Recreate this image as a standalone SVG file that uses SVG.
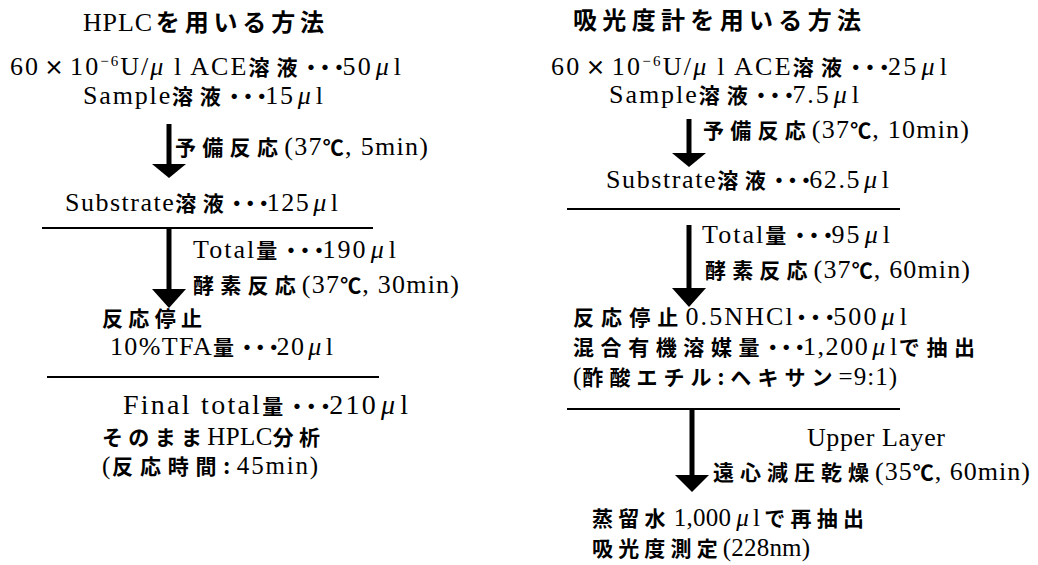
<svg xmlns="http://www.w3.org/2000/svg" width="1038" height="565" viewBox="0 0 1038 565">
<style>
text{font-family:"Liberation Serif","Times New Roman",serif;font-size:26px;fill:#000}
.r{font-family:"Liberation Serif","Times New Roman",serif;font-weight:normal;letter-spacing:0}
.s25{font-size:25px}
.big{font-size:28px}
.j{font-family:"Noto Sans CJK JP","Noto Sans CJK SC",sans-serif;font-weight:bold;font-size:21px;letter-spacing:5px}
.jt{font-family:"Noto Sans CJK JP","Noto Sans CJK SC",sans-serif;font-weight:bold;font-size:24px;letter-spacing:4px}
.x{font-family:"Noto Sans CJK JP",sans-serif;font-weight:bold;font-size:20px;letter-spacing:0}
.d{font-family:"Noto Sans CJK JP",sans-serif;font-weight:bold;font-size:21px;letter-spacing:-9px}
.m{font-family:"Liberation Serif",serif;font-style:italic}
.sup{font-size:15px}
.c{font-family:"Noto Sans CJK JP",sans-serif;font-weight:bold;font-size:21px;letter-spacing:0}
.rule{stroke:#000;stroke-width:2;fill:none}
.shaft{stroke:#000;stroke-width:5;fill:none}
.head{fill:#000}
</style>
<g id="connectors">
<line class="rule" x1="42" y1="228" x2="373" y2="228"/>
<line class="rule" x1="47" y1="377" x2="379" y2="377"/>
<line class="rule" x1="567" y1="209" x2="900" y2="209"/>
<line class="rule" x1="567" y1="409" x2="900" y2="409"/>
<line class="shaft" x1="169" y1="124" x2="169" y2="166"/>
<polygon class="head" points="152,164 186,164 169,178"/>
<line class="shaft" x1="169" y1="228" x2="169" y2="291"/>
<polygon class="head" points="152,289 186,289 169,308"/>
<line class="shaft" x1="689" y1="119" x2="689" y2="155"/>
<polygon class="head" points="672,153 706,153 689,167"/>
<line class="shaft" x1="689" y1="225" x2="689" y2="290"/>
<polygon class="head" points="672,288 706,288 689,307"/>
<line class="shaft" x1="692" y1="409" x2="692" y2="477"/>
<polygon class="head" points="675,475 709,475 692,492"/>
</g>
<g id="left-title"><text x="83" y="31" textLength="245"><tspan class="r">HPLC</tspan><tspan class="jt" dx="3">を用いる方法</tspan></text></g>
<g id="left-mix">
<text x="10" y="75" textLength="391"><tspan class="r">60</tspan><tspan class="x" dx="4">×</tspan><tspan class="r" dx="4">10</tspan><tspan class="r sup" dy="-9">−6</tspan><tspan class="r" dy="9">U/</tspan><tspan class="m">μ</tspan><tspan class="r"> l ACE</tspan><tspan class="j">溶液</tspan><tspan class="d" dx="-4">・・・</tspan><tspan class="r">50</tspan><tspan class="m" dx="3">μ</tspan><tspan class="r" dx="3">l</tspan></text>
<text x="83" y="104" textLength="240"><tspan class="r">Sample</tspan><tspan class="j">溶液</tspan><tspan class="d" dx="-4">・・・</tspan><tspan class="r">15</tspan><tspan class="m" dx="3">μ</tspan><tspan class="r" dx="3">l</tspan></text>
</g>
<g id="left-pre"><text x="175" y="155" textLength="253"><tspan class="j">予備反応</tspan><tspan class="r">(37</tspan><tspan class="c">℃</tspan><tspan class="r">, 5min)</tspan></text></g>
<g id="left-substrate"><text x="65" y="211" textLength="273"><tspan class="r">Substrate</tspan><tspan class="j">溶液</tspan><tspan class="d" dx="-4">・・・</tspan><tspan class="r">125</tspan><tspan class="m" dx="3">μ</tspan><tspan class="r" dx="3">l</tspan></text></g>
<g id="left-enzyme">
<text x="193" y="258" textLength="203"><tspan class="r">Total</tspan><tspan class="j">量</tspan><tspan class="d" dx="-4">・・・</tspan><tspan class="r">190</tspan><tspan class="m" dx="3">μ</tspan><tspan class="r" dx="3">l</tspan></text>
<text x="193" y="293" textLength="266"><tspan class="j">酵素反応</tspan><tspan class="r">(37</tspan><tspan class="c">℃</tspan><tspan class="r">, 30min)</tspan></text>
</g>
<g id="left-stop">
<text x="102" y="326" textLength="105"><tspan class="j">反応停止</tspan></text>
<text x="110" y="355" textLength="223"><tspan class="r">10%TFA</tspan><tspan class="j">量</tspan><tspan class="d" dx="-4">・・・</tspan><tspan class="r">20</tspan><tspan class="m" dx="3">μ</tspan><tspan class="r" dx="3">l</tspan></text>
</g>
<g id="left-final">
<text class="big" x="123" y="414" textLength="285"><tspan class="r">Final total</tspan><tspan class="j">量</tspan><tspan class="d" dx="-4">・・・</tspan><tspan class="r">210</tspan><tspan class="m" dx="3">μ</tspan><tspan class="r" dx="3">l</tspan></text>
<text class="s25" x="102" y="445" textLength="223"><tspan class="j">そのまま</tspan><tspan class="r">HPLC</tspan><tspan class="j">分析</tspan></text>
<text class="s25" x="102" y="474" textLength="216"><tspan class="r">(</tspan><tspan class="j">反応時間:</tspan><tspan class="r">45min)</tspan></text>
</g>
<g id="right-title"><text x="573" y="29" textLength="292"><tspan class="jt">吸光度計を用いる方法</tspan></text></g>
<g id="right-mix">
<text x="551" y="75" textLength="396"><tspan class="r">60</tspan><tspan class="x" dx="4">×</tspan><tspan class="r" dx="4">10</tspan><tspan class="r sup" dy="-9">−6</tspan><tspan class="r" dy="9">U/</tspan><tspan class="m">μ</tspan><tspan class="r"> l ACE</tspan><tspan class="j">溶液</tspan><tspan class="d" dx="-4">・・・</tspan><tspan class="r">25</tspan><tspan class="m" dx="3">μ</tspan><tspan class="r" dx="3">l</tspan></text>
<text x="609" y="103" textLength="250"><tspan class="r">Sample</tspan><tspan class="j">溶液</tspan><tspan class="d" dx="-4">・・・</tspan><tspan class="r">7.5</tspan><tspan class="m" dx="3">μ</tspan><tspan class="r" dx="3">l</tspan></text>
</g>
<g id="right-pre"><text x="703" y="138" textLength="266"><tspan class="j">予備反応</tspan><tspan class="r">(37</tspan><tspan class="c">℃</tspan><tspan class="r">, 10min)</tspan></text></g>
<g id="right-substrate"><text x="606" y="188" textLength="283"><tspan class="r">Substrate</tspan><tspan class="j">溶液</tspan><tspan class="d" dx="-4">・・・</tspan><tspan class="r">62.5</tspan><tspan class="m" dx="3">μ</tspan><tspan class="r" dx="3">l</tspan></text></g>
<g id="right-enzyme">
<text x="702" y="243" textLength="188"><tspan class="r">Total</tspan><tspan class="j">量</tspan><tspan class="d" dx="-4">・・・</tspan><tspan class="r">95</tspan><tspan class="m" dx="3">μ</tspan><tspan class="r" dx="3">l</tspan></text>
<text x="705" y="278" textLength="265"><tspan class="j">酵素反応</tspan><tspan class="r">(37</tspan><tspan class="c">℃</tspan><tspan class="r">, 60min)</tspan></text>
</g>
<g id="right-stop">
<text x="573" y="325" textLength="334"><tspan class="j">反応停止</tspan><tspan class="r">0.5NHCl</tspan><tspan class="d" dx="-4">・・・</tspan><tspan class="r">500</tspan><tspan class="m" dx="3">μ</tspan><tspan class="r" dx="3">l</tspan></text>
<text x="573" y="355" textLength="407"><tspan class="j">混合有機溶媒量</tspan><tspan class="d" dx="-4">・・・</tspan><tspan class="r">1,200</tspan><tspan class="m" dx="3">μ</tspan><tspan class="r" dx="3">l</tspan><tspan class="j">で抽出</tspan></text>
<text class="s25" x="573" y="385" textLength="324"><tspan class="r">(</tspan><tspan class="j">酢酸エチル:ヘキサン</tspan><tspan class="r">=9:1)</tspan></text>
</g>
<g id="right-dry">
<text x="807" y="446" textLength="138"><tspan class="r">Upper Layer</tspan></text>
<text x="713" y="480" textLength="317"><tspan class="j">遠心減圧乾燥</tspan><tspan class="r">(35</tspan><tspan class="c">℃</tspan><tspan class="r">, 60min)</tspan></text>
</g>
<g id="right-final">
<text class="s25" x="592" y="526" textLength="277"><tspan class="j">蒸留水</tspan><tspan class="r" dx="3">1,000</tspan><tspan class="m" dx="5">μ</tspan><tspan class="r" dx="4">l</tspan><tspan class="j" dx="4">で再抽出</tspan></text>
<text class="s25" x="592" y="556" textLength="218"><tspan class="j">吸光度測定</tspan><tspan class="r">(228nm)</tspan></text>
</g>
</svg>
